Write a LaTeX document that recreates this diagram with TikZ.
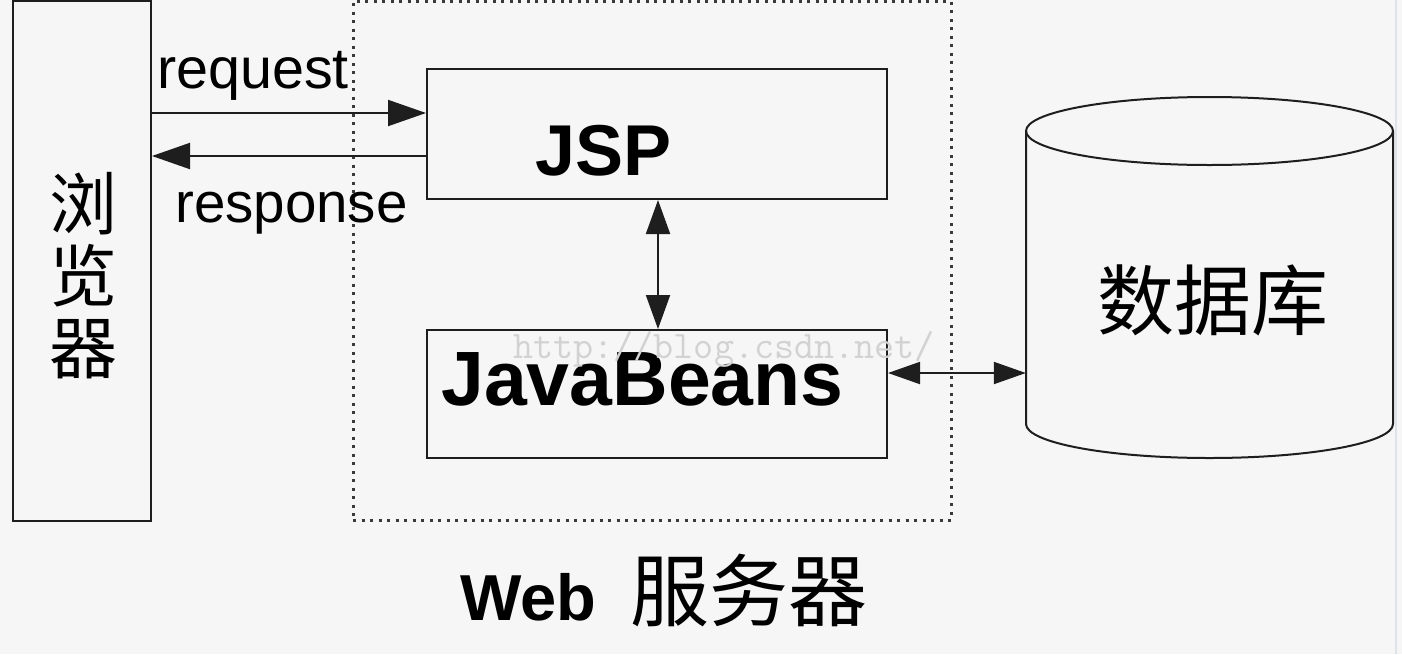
\documentclass[tikz,border=0pt]{standalone}
\usepackage{fontspec}
\setmainfont{Liberation Sans}
\newfontfamily\cjk{Noto Sans CJK SC}
\usetikzlibrary{arrows.meta}
\definecolor{bg}{HTML}{F6F6F6}
\definecolor{ink}{HTML}{1E1E1E}
\definecolor{dots}{HTML}{3A3A3A}
\definecolor{wm}{HTML}{D2D2D2}
\definecolor{edge}{HTML}{DCE3EA}
\begin{document}
\begin{tikzpicture}[x=1pt,y=-1pt,
  box/.style={draw=ink,line width=2pt,inner sep=0pt},
  bigarrow/.style={draw=ink,line width=2pt,-{Triangle[length=38pt,width=26pt]}},
  dblarrow/.style={draw=ink,line width=2pt,{Triangle[length=34pt,width=24pt]}-{Triangle[length=34pt,width=24pt]}},
  dbarrow/.style={draw=ink,line width=2pt,{Triangle[length=32pt,width=22pt]}-{Triangle[length=32pt,width=22pt]}},
  lbl/.style={inner sep=0pt,text=black}]
\useasboundingbox (0,0) rectangle (1402,654);
\fill[bg] (0,0) rectangle (1402,654);
\draw[edge,line width=2pt] (1396,0) -- (1396,654);
% web server dotted frame
\node[draw=dots,line width=3pt,dash pattern=on 3pt off 5.5pt,minimum width=598pt,minimum height=519pt,inner sep=0pt] (web) at (652,260.5) {};
% browser
\node[box,minimum width=138pt,minimum height=520pt] (br) at (82,261) {};
\node[lbl,font=\cjk\fontsize{68}{72}\selectfont,align=center] (brt) at (83,276) {浏\\览\\器};
% JSP and JavaBeans
\node[box,minimum width=460pt,minimum height=130pt] (jsp) at (657,134) {};
\node[lbl,anchor=base west,font=\bfseries\fontsize{72}{72}\selectfont] (jspt) at (535,175) {JSP};
\node[box,minimum width=460pt,minimum height=128pt] (jb) at (657,394) {};
\node[lbl,anchor=base west,font=\bfseries\fontsize{77}{77}\selectfont] (jbt) at (441,405) {JavaBeans};
% watermark
\node[lbl,anchor=base west,text=wm,font=\ttfamily\fontsize{39}{39}\selectfont] (wmk) at (513,358) {http://blog.csdn.net/};
% database cylinder
\node[inner sep=0pt,minimum width=367pt,minimum height=293pt] (db) at (1209.5,277.5) {};
\draw[ink,line width=2pt] (1026,131) -- (1026,424) arc[start angle=180,end angle=360,x radius=183.5pt,y radius=34pt] -- (1393,131);
\draw[ink,line width=2pt] (1209.5,131) ellipse [x radius=183.5pt,y radius=34pt];
\node[lbl,font=\cjk\fontsize{77}{77}\selectfont] (dbt) at (1213,300) {数据库};
% connectors
\draw[bigarrow] ([yshift=21pt]jsp.west -| br.east) -- ([yshift=21pt]jsp.west);
\draw[bigarrow] ([yshift=-22pt]jsp.west) -- ([yshift=-22pt]jsp.west -| br.east);
\draw[dblarrow] (jsp.south -| 658,0) -- (jb.north -| 658,0);
\draw[dbarrow] ([yshift=21pt]jb.east) -- ([yshift=21pt]jb.east -| db.west);
% labels
\node[lbl,anchor=base west,font=\fontsize{57.5}{57.5}\selectfont] (req) at (157,88) {request};
\node[lbl,anchor=base west,font=\fontsize{56.5}{56.5}\selectfont] (resp) at (175,222) {response};
\node[lbl,anchor=base west] (webt) at (460,620) {{\bfseries\fontsize{65}{65}\selectfont Web}\hspace{34pt}{\cjk\fontsize{79}{79}\selectfont 服务器}};
\end{tikzpicture}
\end{document}
